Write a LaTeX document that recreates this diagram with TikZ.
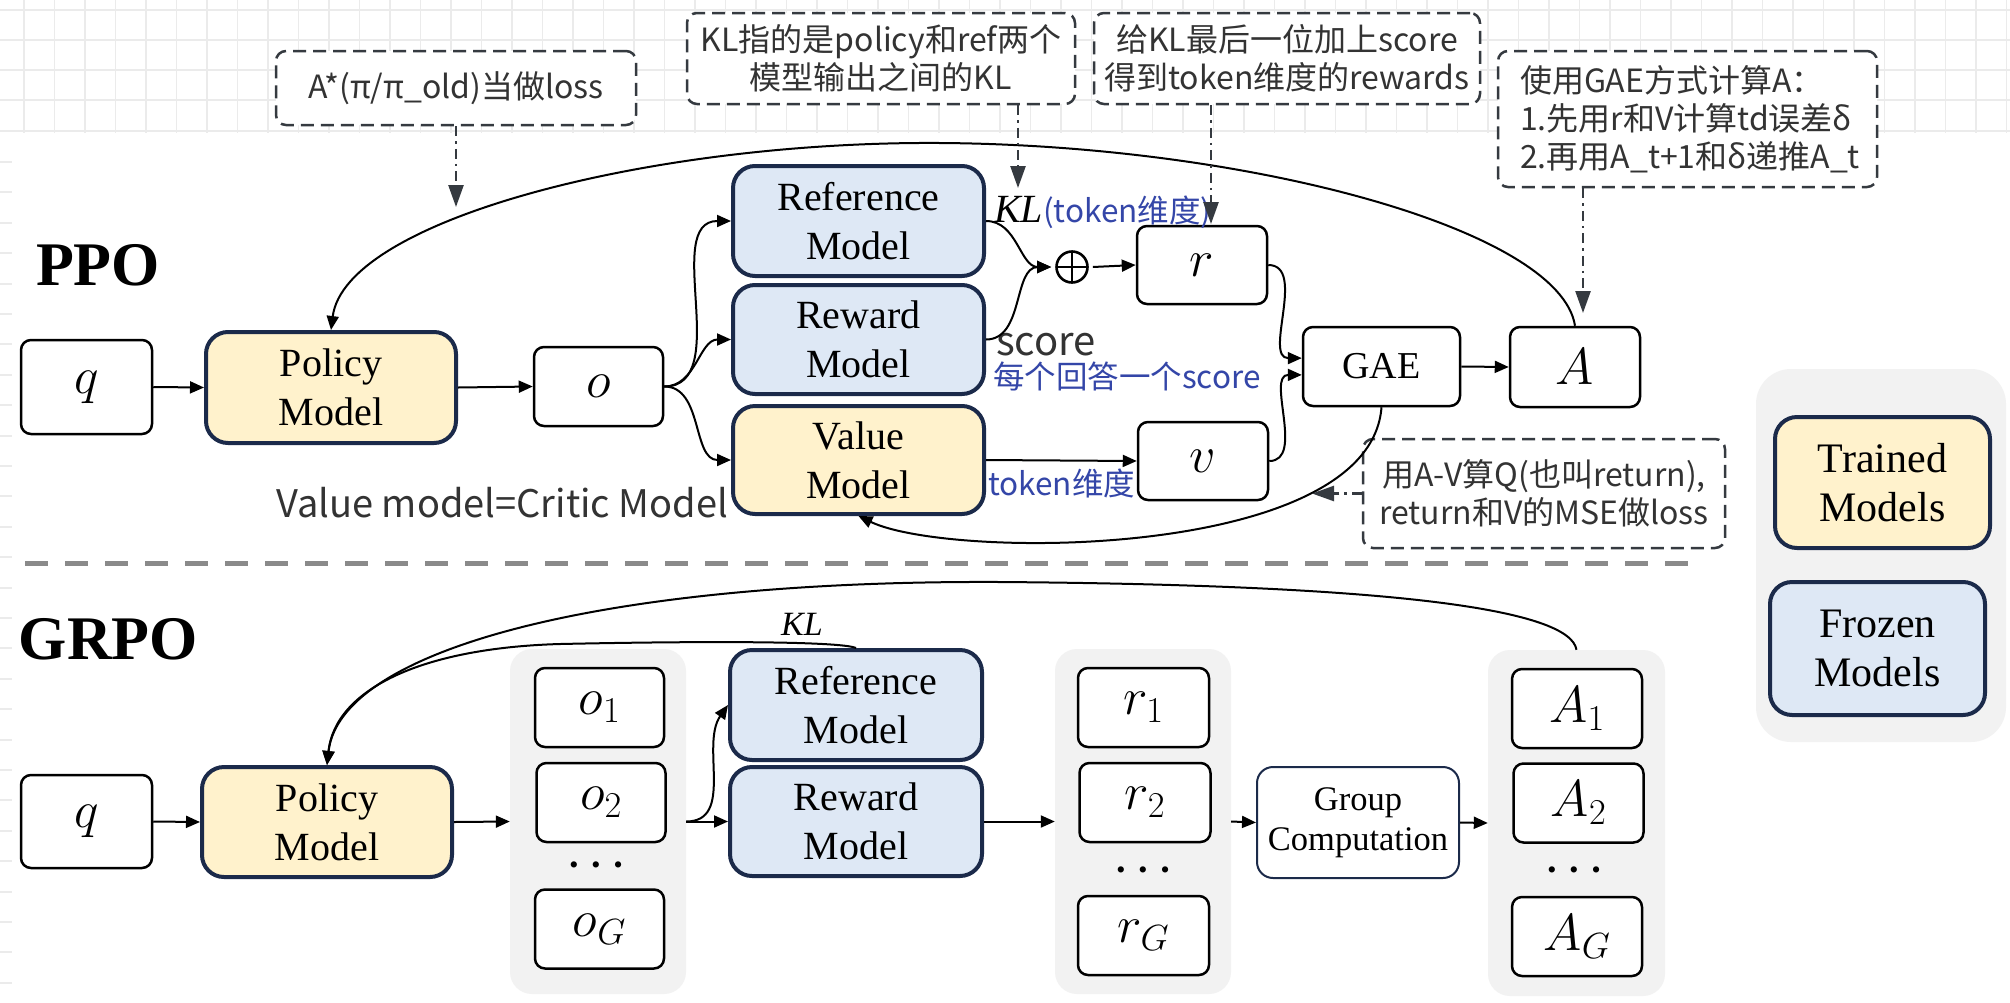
\RequirePackage{fix-cm}
\documentclass[tikz,border=0pt]{standalone}
\usepackage{fontspec}
\setmainfont{Liberation Serif}
\newfontfamily\cjk{Noto Sans CJK SC}
\usetikzlibrary{arrows.meta}
\definecolor{ylw}{HTML}{FFF2CC}
\definecolor{blu}{HTML}{DEE8F5}
\definecolor{navy}{HTML}{1B2A4A}
\definecolor{notec}{HTML}{353A40}
\definecolor{bluetxt}{HTML}{3446A8}
\definecolor{darktxt}{HTML}{333333}
\definecolor{grpbg}{HTML}{F2F2F2}
\definecolor{sepc}{HTML}{8A8A8A}
\definecolor{gridc}{HTML}{EBEBEB}
\begin{document}
\begin{tikzpicture}[x=1pt,y=-1pt,
  wbox/.style={draw=black, line width=2.5pt, rounded corners=10pt, fill=white, inner sep=0pt},
  sym/.style={font=\fontsize{52}{60}\selectfont},
  mbox/.style={draw=navy, line width=4pt, rounded corners=22pt, inner sep=0pt, align=center,
    font=\fontsize{40}{49}\selectfont, minimum width=251pt, minimum height=110pt},
  trainedbox/.style={mbox, fill=ylw},
  frozenbox/.style={mbox, fill=blu},
  gcbox/.style={draw=navy, line width=2pt, rounded corners=16pt, fill=white, inner sep=0pt, align=center,
    font=\fontsize{34.5}{40}\selectfont},
  note/.style={draw=notec, line width=2.5pt, dash pattern=on 13pt off 7pt, rounded corners=10pt,
    fill=white, inner sep=0pt, align=center, text=darktxt, font=\cjk\fontsize{32}{38}\selectfont},
  grpbox/.style={fill=grpbg, rounded corners=22pt, inner sep=0pt},
  conn/.style={line width=2pt, -{Triangle[length=14pt,width=12pt]}},
  hint/.style={draw=notec, line width=2.5pt, dash pattern=on 10pt off 5pt on 2.5pt off 5pt,
    -{Triangle[length=22pt,width=15pt]}},
  title/.style={font=\bfseries\fontsize{62}{62}\selectfont, inner sep=0pt},
  sanslbl/.style={anchor=base west, inner sep=0pt, text=darktxt, font=\cjk\fontsize{40}{40}\selectfont},
  bluelbl/.style={anchor=base west, inner sep=0pt, text=bluetxt, font=\cjk\fontsize{31.5}{31.5}\selectfont},
  dots/.style={font=\fontsize{26}{26}\selectfont, inner sep=0pt},
  sepline/.style={draw=sepc, line width=5pt, dash pattern=on 23pt off 17pt},
  oplusnode/.style={circle, draw=black, line width=2.6pt, minimum size=31pt, inner sep=0pt,
    path picture={\draw[line width=2.6pt] (path picture bounding box.north) -- (path picture bounding box.south)
      (path picture bounding box.west) -- (path picture bounding box.east);}}
]
\useasboundingbox (0,0) rectangle (2010,1002);
\fill[white] (0,0) rectangle (2010,1002);
% background grid and ruler ticks
\foreach \i in {0,...,65} \draw[gridc, line width=1.5pt] ({24+30.5*\i},0) -- ({24+30.5*\i},133);
\foreach \yy in {10,40,70,100,131} \draw[gridc, line width=1.5pt] (0,\yy) -- (2010,\yy);
\foreach \k in {0,...,27} \draw[gridc, line width=2pt] (0,{162+30.4*\k}) -- (12,{162+30.4*\k});

% ---------------- PPO ----------------
\node[title] (ppo) at (98,265) {PPO};
\node[wbox, sym, minimum width=131pt, minimum height=94pt] (qP) at (86.5,387) {$q$};
\node[trainedbox, minimum width=250pt, minimum height=111pt] (polP) at (331,387.5) {Policy\\Model};
\node[wbox, sym, minimum width=129pt, minimum height=79pt] (oP) at (598.5,386.5) {$o$};
\node[frozenbox] (refP) at (858.5,221) {Reference\\Model};
\node[frozenbox, minimum height=109pt] (rewP) at (858.5,339.5) {Reward\\Model};
\node[trainedbox, minimum height=108pt] (valP) at (858.5,460) {Value\\Model};
\node[oplusnode] (oplus) at (1072,267) {};
\node[wbox, sym, minimum width=130pt, minimum height=78pt] (rP) at (1202,265) {$r$};
\node[wbox, sym, minimum width=130pt, minimum height=78pt] (vP) at (1203,461) {$v$};
\node[wbox, font=\fontsize{38}{38}\selectfont, minimum width=157pt, minimum height=79pt] (gaeP) at (1381.5,366.5) {GAE};
\node[wbox, sym, minimum width=130pt, minimum height=80pt] (AP) at (1575,367) {$A$};

\node[sanslbl, font=\cjk\fontsize{38}{38}\selectfont] (vmlbl) at (276,517) {Value model=Critic Model};
\node[sanslbl] (scorelbl) at (996,355) {score};
\node[bluelbl] (scoredesc) at (993,388) {每个回答一个score};
\node[bluelbl] (tokdim) at (988,495) {token维度};
\node[anchor=base west, inner sep=0pt] (klP) at (994,222)
  {{\fontsize{40}{40}\selectfont\textit{KL}}{\cjk\fontsize{31.5}{31.5}\selectfont\color{bluetxt}(token维度)}};

% notes
\node[note, minimum width=360pt, minimum height=74pt] (n1) at (456,88) {A*(π/π\_old)当做loss};
\node[note, minimum width=388pt, minimum height=91pt] (n2) at (881,58.5) {KL指的是policy和ref两个\\模型输出之间的KL};
\node[note, minimum width=386pt, minimum height=91pt] (n3) at (1287,58.5) {给KL最后一位加上score\\得到token维度的rewards};
\node[note, minimum width=379pt, minimum height=136pt, align=left, text width=335pt] (n4) at (1687.5,119)
  {使用GAE方式计算A：\\1.先用r和V计算td误差δ\\2.再用A\_t+1和δ递推A\_t};
\node[note, minimum width=362pt, minimum height=109pt] (n5) at (1544,493.5) {用A-V算Q(也叫return),\\return和V的MSE做loss};

% PPO connectors
\draw[conn] (qP.east) -- (polP.west);
\draw[conn] (polP.east) -- (oP.west);
\draw[conn] (oP.east) to[out=0,in=180] (refP.west);
\draw[conn] (oP.east) to[out=0,in=180] (rewP.west);
\draw[conn] (oP.east) to[out=0,in=180] (valP.west);
\draw[conn] (refP.east) to[out=0,in=180] ([xshift=-4pt]oplus.west);
\draw[conn] (rewP.east) to[out=0,in=180] ([xshift=-4pt]oplus.west);
\draw[conn] ([xshift=4pt]oplus.east) -- (rP.west);
\draw[conn] (rP.east) to[out=0,in=180] (gaeP.174);
\draw[conn] (vP.east) to[out=0,in=180] (gaeP.186);
\draw[conn] (gaeP.east) -- (AP.west);
\draw[conn] (valP.east) -- (vP.west);
\draw[conn] (AP.north) .. controls (1560,230) and (1250,145) .. (940,143)
  .. controls (650,141) and (345,220) .. (polP.north);
\draw[conn] (gaeP.south) .. controls (1370,560) and (950,560) .. (valP.south);

% hint arrows
\coordinate (h1) at (456,207);
\coordinate (h2) at (1018,188);
\coordinate (h3) at (1211,224);
\coordinate (h4) at (1583,313);
\coordinate (h5) at (1312,493.5);
\draw[hint] (n1.south) -- (h1);
\draw[hint] (n2.south -| h2) -- (h2);
\draw[hint] (n3.south -| h3) -- (h3);
\draw[hint] (n4.south -| h4) -- (h4);
\draw[hint] (n5.west) -- (h5);

% separator
\draw[sepline] (25,563) -- (1700,563);

% ---------------- GRPO ----------------
\node[title] (grpo) at (108.5,639) {GRPO};
\node[grpbox, minimum width=176pt, minimum height=345pt] (og) at (598,821.5) {};
\node[grpbox, minimum width=176pt, minimum height=345pt] (rg) at (1143,821.5) {};
\node[grpbox, minimum width=177pt, minimum height=346pt] (ag) at (1576.5,823) {};

\node[wbox, sym, minimum width=131pt, minimum height=93pt] (qG) at (86.5,821.5) {$q$};
\node[trainedbox, minimum width=250pt] (polG) at (327,822) {Policy\\Model};
\node[wbox, sym, minimum width=129pt, minimum height=79pt] (o1) at (599.5,707.5) {$o_1$};
\node[wbox, sym, minimum width=129pt, minimum height=79pt] (o2) at (601,802.5) {$o_2$};
\node[dots] (odots) at (596,868) {\textbullet\hspace{13pt}\textbullet\hspace{13pt}\textbullet};
\node[wbox, sym, minimum width=129pt, minimum height=79pt] (oG) at (599.5,929) {$o_G$};

\node[frozenbox, minimum width=252pt] (refG) at (856,705) {Reference\\Model};
\node[frozenbox, minimum width=252pt, minimum height=109pt] (rewG) at (856,821.5) {Reward\\Model};
\node[font=\fontsize{34}{34}\selectfont, inner sep=0pt] (klG) at (802,624) {\textit{KL}};

\node[wbox, sym, minimum width=131pt, minimum height=79pt] (r1) at (1143.5,707.5) {$r_1$};
\node[wbox, sym, minimum width=131pt, minimum height=79pt] (r2) at (1145,802.5) {$r_2$};
\node[dots] (rdots) at (1143,873) {\textbullet\hspace{13pt}\textbullet\hspace{13pt}\textbullet};
\node[wbox, sym, minimum width=131pt, minimum height=79pt] (rG) at (1143.5,935.5) {$r_G$};

\node[gcbox, minimum width=202pt, minimum height=111pt] (gc) at (1358,822.5) {Group\\Computation};

\node[wbox, sym, minimum width=130pt, minimum height=79pt] (A1) at (1577,708.5) {$A_1$};
\node[wbox, sym, minimum width=130pt, minimum height=79pt] (A2) at (1578.5,803) {$A_2$};
\node[dots] (Adots) at (1574,873) {\textbullet\hspace{13pt}\textbullet\hspace{13pt}\textbullet};
\node[wbox, sym, minimum width=130pt, minimum height=79pt] (AG) at (1577,936.5) {$A_G$};

% GRPO connectors
\draw[conn] (qG.east) -- (polG.west);
\draw[conn] (polG.east) -- (og.west);
\draw[conn] (og.east) -- (rewG.west);
\draw[conn] (og.east) to[out=0,in=235] (refG.west);
\draw[conn] (rewG.east) -- (rg.west);
\draw[conn] (rg.east) -- (gc.west);
\draw[conn] (gc.east) -- (ag.west);
\draw[conn] (ag.north) .. controls (1570,610) and (1400,585) .. (1000,582)
  .. controls (600,580) and (340,650) .. (polG.north);
\draw[conn] (refG.north) .. controls (840,641) and (700,641) .. (560,644)
  .. controls (420,648) and (335,690) .. (polG.north);

% ---------------- Legend ----------------
\node[fill=grpbg, rounded corners=35pt, inner sep=0pt, minimum width=250pt, minimum height=373pt] (leg) at (1881,555.5) {};
\node[trainedbox, minimum width=215pt, minimum height=131pt, font=\fontsize{42}{49}\selectfont] (legT) at (1882.5,482.5) {Trained\\Models};
\node[frozenbox, minimum width=215pt, minimum height=133pt, font=\fontsize{42}{49}\selectfont] (legF) at (1877.5,648.5) {Frozen\\Models};
\end{tikzpicture}
\end{document}
